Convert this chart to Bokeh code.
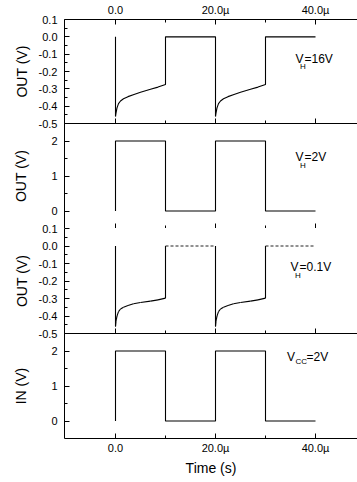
from bokeh.plotting import figure
from bokeh.models import Range1d, FixedTicker, PrintfTickFormatter, LinearAxis, Label, ColumnDataSource
from bokeh.layouts import column
from bokeh.embed import file_html
from bokeh.resources import INLINE

# ---------------- data (time in microseconds) ----------------
x_major = [0, 20, 40]
x_minor = [10, 30]
x_labels = ["0.0", "20.0\u00b5", "40.0\u00b5"]

# Panel 1: OUT, V_H = 16 V
t_out16 = [0, 0, 0.1, 0.3, 0.6, 1.0, 1.6, 2.5, 3.7, 5, 7, 8.5, 10, 10, 20,
           20, 20.1, 20.3, 20.6, 21.0, 21.6, 22.5, 23.7, 25, 27, 28.5, 30, 30, 40]
v_out16 = [0, -0.46, -0.44, -0.41, -0.385, -0.37, -0.357, -0.345, -0.333, -0.32, -0.302, -0.29, -0.275, 0, 0,
           -0.46, -0.44, -0.41, -0.385, -0.37, -0.357, -0.345, -0.333, -0.32, -0.302, -0.29, -0.275, 0, 0]

# Panel 2: OUT, V_H = 2 V
t_out2 = [0, 0, 10, 10, 20, 20, 30, 30, 40]
v_out2 = [0, 2, 2, 0, 0, 2, 2, 0, 0]

# Panel 3: OUT, V_H = 0.1 V
t_out01 = [0, 0, 0.1, 0.3, 0.6, 1.0, 1.6, 2.5, 3.6, 5, 7, 8.5, 10, 10, 20,
           20, 20.1, 20.3, 20.6, 21.0, 21.6, 22.5, 23.6, 25, 27, 28.5, 30, 30, 40]
v_out01 = [0, -0.46, -0.43, -0.40, -0.375, -0.36, -0.35, -0.34, -0.33, -0.323, -0.315, -0.308, -0.298, 0, 0,
           -0.46, -0.43, -0.40, -0.375, -0.36, -0.35, -0.34, -0.33, -0.323, -0.315, -0.308, -0.298, 0, 0]

# Panel 4: IN, V_CC = 2 V
t_in = [0, 0, 10, 10, 20, 20, 30, 30, 40]
v_in = [0, 2, 2, 0, 0, 2, 2, 0, 0]

ticks_small = [0.1, 0.0, -0.1, -0.2, -0.3, -0.4, -0.5]
minor_small = [0.05, -0.05, -0.15, -0.25, -0.35, -0.45]
ticks_big = [0, 1, 2]
minor_big = [0.5, 1.5]

FONT = "Liberation Sans"
TICK_FS = "11px"
OVER = 8
xr = Range1d(-10.2, 48.4)


def style_axis(ax):
    ax.axis_line_color = "black"
    ax.axis_line_width = 1
    ax.major_tick_line_color = "black"
    ax.minor_tick_line_color = "black"
    ax.major_tick_in = 5
    ax.major_tick_out = 0
    ax.minor_tick_in = 3
    ax.minor_tick_out = 0
    ax.major_label_text_font = FONT
    ax.major_label_text_font_size = TICK_FS
    ax.major_label_text_color = "black"
    ax.axis_label_text_font = FONT
    ax.axis_label_text_font_size = "14px"
    ax.axis_label_text_font_style = "normal"
    ax.axis_label_text_color = "black"


def labelled_x_axis(standoff):
    ax = LinearAxis(ticker=FixedTicker(ticks=x_major, minor_ticks=x_minor))
    style_axis(ax)
    ax.major_label_overrides = {k: s for k, s in zip(x_major, x_labels)}
    ax.major_label_standoff = standoff
    return ax


def bare_x_axis(ticks, tick_len):
    ax = LinearAxis(ticker=FixedTicker(ticks=[], minor_ticks=ticks))
    style_axis(ax)
    ax.minor_tick_in = tick_len
    ax.major_label_standoff = 0
    return ax


def make_panel(frame_h, yr, yt, ym, fmt, ylabel, lab_standoff, top=False, bottom=False,
               over_top=False, over_bottom=False):
    bt = 19 if top else (OVER if over_top else 0)
    bb = 40 if bottom else (OVER if over_bottom else 0)
    p = figure(frame_width=293, frame_height=frame_h, x_range=xr, y_range=Range1d(*yr),
               x_axis_location=None, toolbar_location=None, output_backend="svg",
               min_border_left=64, min_border_right=0,
               min_border_top=bt, min_border_bottom=bb,
               background_fill_color=None, border_fill_color=None)
    p.margin = (-OVER if over_top else 0, 0, -OVER if over_bottom else 0, 0)
    p.outline_line_color = None
    p.grid.visible = False
    ya = p.yaxis[0]
    style_axis(ya)
    ya.ticker = FixedTicker(ticks=yt, minor_ticks=ym)
    ya.formatter = PrintfTickFormatter(format=fmt)
    ya.major_label_standoff = 7
    ya.axis_label = ylabel
    ya.axis_label_standoff = lab_standoff
    if bottom:
        bx = labelled_x_axis(3)
        bx.axis_label = "Time (s)"
        bx.axis_label_standoff = 3
        p.add_layout(bx, "below")
    else:
        p.add_layout(bare_x_axis(x_major, 5), "below")
        p.add_layout(bare_x_axis(x_minor, 3), "below")
    if top:
        p.add_layout(labelled_x_axis(4), "above")
    return p


def add_solid_dashed(p, t, v):
    s = {"x0": [], "y0": [], "x1": [], "y1": []}
    d = {"x0": [], "y0": [], "x1": [], "y1": []}
    for i in range(len(t) - 1):
        flat0 = v[i] == 0 and v[i + 1] == 0 and t[i] != t[i + 1]
        tgt = d if flat0 else s
        tgt["x0"].append(t[i]); tgt["y0"].append(v[i])
        tgt["x1"].append(t[i + 1]); tgt["y1"].append(v[i + 1])
    p.segment("x0", "y0", "x1", "y1", source=ColumnDataSource(s), line_color="black", line_width=1.1)
    p.segment("x0", "y0", "x1", "y1", source=ColumnDataSource(d), line_color="#222222",
              line_width=1, line_dash="3 2")


def vlabel(p, x, y, ysub, xsub, xrest, sub, rest):
    p.add_layout(Label(x=x, y=y, text="V", text_font=FONT, text_font_size="12px",
                       text_baseline="alphabetic", text_color="black"))
    p.add_layout(Label(x=xsub, y=ysub, text=sub, text_font=FONT, text_font_size="8px",
                       text_baseline="alphabetic", text_color="black"))
    p.add_layout(Label(x=xrest, y=y, text=rest, text_font=FONT, text_font_size="12px",
                       text_baseline="alphabetic", text_color="black"))


p1 = make_panel(104, (-0.5, 0.1), ticks_small, minor_small, "%.1f", "OUT (V)", 6,
                top=True, over_bottom=True)
p1.line(t_out16, v_out16, line_color="black", line_width=1.1)
vlabel(p1, 36.0, -0.126, -0.173, 36.9, 37.8, "H", "=16V")

p2 = make_panel(105, (-0.5, 2.5), ticks_big, minor_big, "%d", "OUT (V)", 19)
p2.line(t_out2, v_out2, line_color="black", line_width=1.1)
vlabel(p2, 36.0, 1.54, 1.31, 36.9, 37.8, "H", "=2V")

p3 = make_panel(105, (-0.5, 0.1), ticks_small, minor_small, "%.1f", "OUT (V)", 6,
                over_top=True, over_bottom=True)
add_solid_dashed(p3, t_out01, v_out01)
vlabel(p3, 35.0, -0.12, -0.166, 35.9, 36.8, "H", "=0.1V")

p4 = make_panel(105, (-0.5, 2.5), ticks_big, minor_big, "%d", "IN (V)", 19, bottom=True)
p4.line(t_in, v_in, line_color="black", line_width=1.1)
vlabel(p4, 34.3, 1.84, 1.71, 36.0, 38.2, "CC", "=2V")

layout = column(p1, p2, p3, p4, spacing=0)
open("out.html", "w").write(file_html(layout, INLINE))
